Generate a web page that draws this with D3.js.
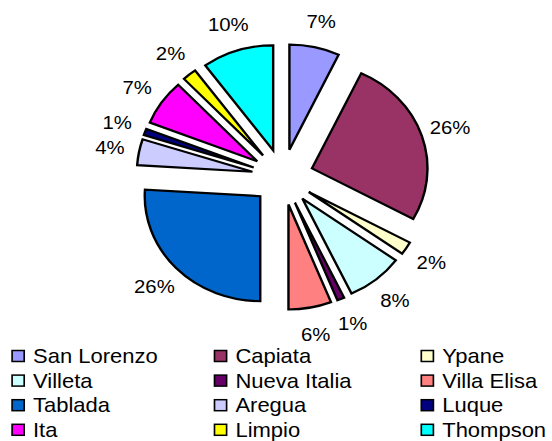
<!DOCTYPE html>
<html>
<head>
<meta charset="utf-8">
<script src="https://cdn.jsdelivr.net/npm/d3@7"></script>
<style>
  html, body { margin: 0; padding: 0; background: #fff; }
  text { font-family: "Liberation Sans", Arial, sans-serif; }
</style>
</head>
<body>
<div id="chart"></div>
<script>
const width = 552,
    height = 441;

// the picture is stretched sideways a little, so everything is drawn in a narrower space
const stretch = 1.1;

const categories = ["San Lorenzo", "Capiata", "Ypane", "Villeta", "Nueva Italia", "Villa Elisa",
    "Tablada", "Aregua", "Luque", "Ita", "Limpio", "Thompson"];
const values = [7, 26, 2, 8, 1, 6, 26, 4, 1, 7, 2, 10];
const colorList = ["#9999FF", "#993366", "#FFFFCC", "#CCFFFF", "#660066", "#FF8080",
    "#0066CC", "#CCCCFF", "#000080", "#FF00FF", "#FFFF00", "#00FFFF"];

const radius = 105;    // pie radius
const explode = 28;    // how far each slice is pulled out
const labelR = 160;    // distance of % labels from centre
const cx = 257, cy = 177;

let svg = d3.select("#chart")
    .append("svg")
    .attr("width", width)
    .attr("height", height);

let root = svg.append("g")
    .attr("transform", `scale(${stretch},1)`);

let colors = d3.scaleOrdinal()
    .domain(categories)
    .range(colorList);

let pie = d3.pie()
    .sort(null)
    .value(d => d.value);

let arc = d3.arc()
    .innerRadius(0)
    .outerRadius(radius);

let data = categories.map((c, i) => ({ name: c, value: values[i] }));
let arcs = pie(data);
let total = d3.sum(values);

let g = root.append("g")
    .attr("transform", `translate(${cx},${cy})`);

g.selectAll("path")
    .data(arcs)
    .join("path")
    .attr("d", arc)
    .attr("fill", d => colors(d.data.name))
    .attr("stroke", "#000")
    .attr("stroke-width", 2.2)
    .attr("stroke-linejoin", "miter")
    .attr("transform", d => {
        let a = (d.startAngle + d.endAngle) / 2;
        return `translate(${explode * Math.sin(a)},${-explode * Math.cos(a)})`;
    });

g.selectAll("text.pct")
    .data(arcs)
    .join("text")
    .attr("class", "pct")
    .attr("x", d => labelR * Math.sin((d.startAngle + d.endAngle) / 2))
    .attr("y", d => -labelR * Math.cos((d.startAngle + d.endAngle) / 2))
    .attr("text-anchor", "middle")
    .attr("dominant-baseline", "central")
    .attr("font-size", 18.5)
    .attr("fill", "#000")
    .text(d => Math.round(d.data.value / total * 100) + "%");

// legend, 3 columns x 4 rows
const colX = [11, 195, 383];
const rowY0 = 356, rowH = 24.6;

let legend = root.append("g");

let item = legend.selectAll("g")
    .data(data)
    .join("g")
    .attr("transform", (d, i) => `translate(${colX[i % 3]},${rowY0 + Math.floor(i / 3) * rowH})`);

item.append("rect")
    .attr("x", 0)
    .attr("y", -5.5)
    .attr("width", 11)
    .attr("height", 11)
    .attr("fill", d => colors(d.name))
    .attr("stroke", "#000")
    .attr("stroke-width", 1.5);

item.append("text")
    .attr("x", 19)
    .attr("y", 0)
    .attr("dominant-baseline", "central")
    .attr("font-size", 20)
    .attr("fill", "#000")
    .text(d => d.name);
</script>
</body>
</html>
